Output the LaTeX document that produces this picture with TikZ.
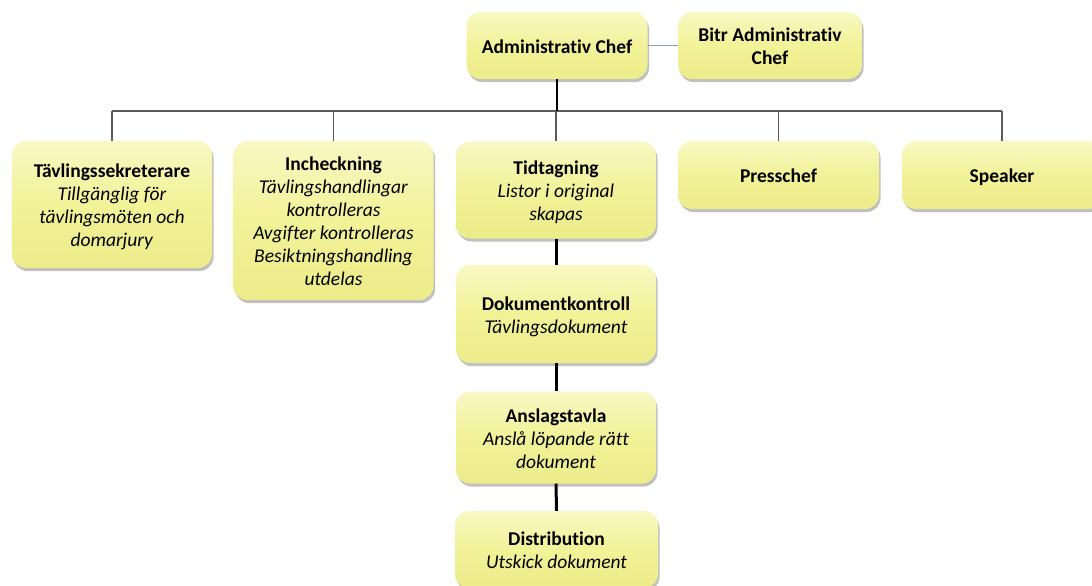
\documentclass[tikz,border=0pt]{standalone}
\usepackage{fontspec}
\setmainfont[RawFeature=-liga]{Carlito}
\usetikzlibrary{shadows}
\definecolor{boxtop}{RGB}{248,248,196}
\definecolor{boxmid}{RGB}{242,242,152}
\definecolor{boxbot}{RGB}{236,236,138}
\definecolor{buscol}{RGB}{90,90,90}
\definecolor{sidecol}{RGB}{140,156,180}
\newcommand\lnstrut{\rule[-3.7pt]{0pt}{22.7pt}}
\newcommand\bln[1]{\textbf{#1}\lnstrut}
\newcommand\iln[1]{\textit{#1}\lnstrut}
\begin{document}
\begin{tikzpicture}[x=1pt,y=-1pt,
  box/.style={draw=none, rounded corners=14pt, top color=boxtop, bottom color=boxbot, middle color=boxmid,
    drop shadow={shadow xshift=1.5pt, shadow yshift=-3pt, opacity=0.35, fill=black!70},
    align=center, inner sep=0pt, font=\fontsize{19.5}{23.1}\selectfont},
  bus/.style={draw=buscol, line width=1.2pt},
  chain/.style={draw=black, line width=3pt},
  main/.style={draw=black, line width=1.8pt},
  side/.style={draw=sidecol, line width=1.5pt}]
\useasboundingbox (0,0) rectangle (1092,586);
\clip (0,0) rectangle (1092,586);
\fill[white] (0,0) rectangle (1092,586);

\node[box, minimum width=181pt, minimum height=67pt] (adm) at (557,45.5) {\bln{Administrativ Chef}};
\node[box, minimum width=184pt, minimum height=67pt] (bitr) at (770,45.5) {\bln{Bitr Administrativ}\\\bln{Chef}};

\node[box, minimum width=200pt, minimum height=127pt] (sek) at (112,204.5) {\bln{Tävlingssekreterare}\\\iln{Tillgänglig för}\\\iln{tävlingsmöten och}\\\iln{domarjury}};
\node[box, minimum width=200pt, minimum height=159pt] (inc) at (333.5,220.5) {\bln{Incheckning}\\\iln{Tävlingshandlingar}\\\iln{kontrolleras}\\\iln{Avgifter kontrolleras}\\\iln{Besiktningshandling}\\\iln{utdelas}};
\node[box, minimum width=200pt, minimum height=97pt] (tid) at (556,190) {\bln{Tidtagning}\\\iln{Listor i original}\\\iln{skapas}};
\node[box, minimum width=201pt, minimum height=68pt] (pre) at (778.5,175) {\bln{Presschef}};
\node[box, minimum width=200pt, minimum height=68pt] (spk) at (1002,175) {\bln{Speaker}};

\node[box, minimum width=200pt, minimum height=98pt] (dok) at (556,314) {\bln{Dokumentkontroll}\\\iln{Tävlingsdokument}};
\node[box, minimum width=200pt, minimum height=92pt] (ans) at (556,437.5) {\bln{Anslagstavla}\\\iln{Anslå löpande rätt}\\\iln{dokument}};
\node[box, minimum width=203pt, minimum height=77pt] (dis) at (556.5,549.5) {\bln{Distribution}\\\iln{Utskick dokument}};

\coordinate (busc) at (557,111);

\draw[side] (adm.east) -- (bitr.west);
\draw[bus] (busc -| sek.north) -- (busc -| spk.north);
\draw[main] (adm.south) -- (busc);
\foreach \n in {sek,inc,tid,pre,spk} \draw[bus] (busc -| \n.north) -- (\n.north);
\draw[chain] (tid.south) -- (dok.north);
\draw[chain] (dok.south) -- (ans.north);
\draw[chain] (ans.south) -- (dis.north);
\end{tikzpicture}
\end{document}
